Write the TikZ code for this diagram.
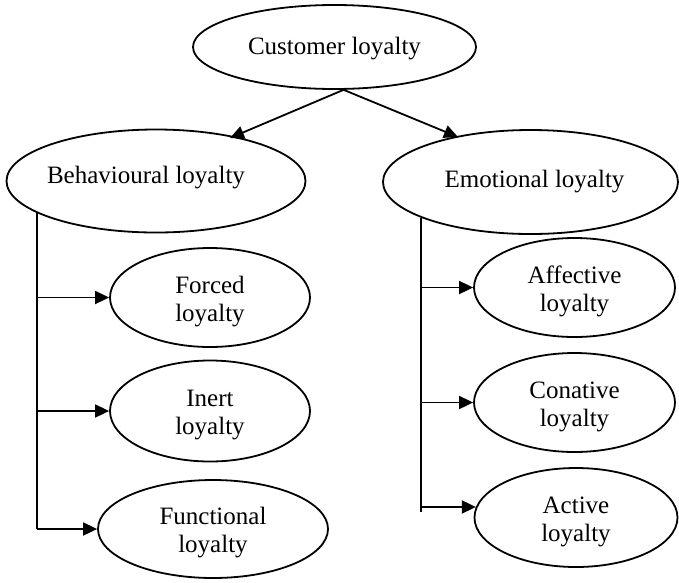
\documentclass[tikz,border=0pt]{standalone}
\usepackage{fontspec}
\setmainfont{Liberation Serif}
\usetikzlibrary{shapes.geometric,arrows.meta}
\begin{document}
\begin{tikzpicture}[x=1pt,y=-1pt,
  every node/.style={font=\fontsize{25}{28}\selectfont},
  every label/.style={align=center,inner sep=0pt},
  oval/.style={ellipse,draw,line width=1.8pt,inner sep=0pt,align=center},
  conn/.style={line width=1.8pt},
  arr/.style={line width=1.8pt,-{Triangle[length=14pt,width=13pt]}}]
\useasboundingbox (0,0) rectangle (679,582);
% nodes
\node[oval,minimum width=283pt,minimum height=84pt,
  label={[yshift=-2pt]center:Customer loyalty}] (cust) at (334.5,47) {};
\node[oval,minimum width=299pt,minimum height=103pt,
  label={[xshift=-10pt,yshift=3pt]center:Behavioural loyalty}] (beh) at (156,181) {};
\node[oval,minimum width=295pt,minimum height=104pt,
  label={[xshift=4pt,yshift=0pt]center:Emotional loyalty}] (emo) at (530.5,182) {};
\node[oval,minimum width=200pt,minimum height=99pt,
  label={[yshift=-4pt]center:Forced\\loyalty}] (forced) at (210,297.5) {};
\node[oval,minimum width=200pt,minimum height=101pt,
  label={[yshift=-4pt]center:Inert\\loyalty}] (inert) at (210,411) {};
\node[oval,minimum width=230pt,minimum height=98pt,
  label={[yshift=-4pt]center:Functional\\loyalty}] (func) at (213,529) {};
\node[oval,minimum width=201pt,minimum height=99pt,
  label={[yshift=-4pt]center:Affective\\loyalty}] (aff) at (574.5,287.5) {};
\node[oval,minimum width=201pt,minimum height=99pt,
  label={[yshift=-4pt]center:Conative\\loyalty}] (con) at (574.5,402.5) {};
\node[oval,minimum width=203pt,minimum height=99pt,
  label={[yshift=-4pt]center:Active\\loyalty}] (act) at (576,517.5) {};
% top arrows
\coordinate (tb) at (230,138);
\coordinate (te) at (458,137);
\draw[arr] (cust.-78.6) -- (tb);
\draw[arr] (cust.-78.6) -- (te);
% left tree
\path (beh.195.75) coordinate (bl);
\draw[conn] (bl) -- (bl |- func.west);
\draw[arr] (bl |- forced.west) -- (forced.west);
\draw[arr] (bl |- inert.west) -- (inert.west);
\draw[arr] (bl |- func.west) -- (func.west);
% right tree
\path (emo.198.4) coordinate (el);
\draw[conn] (el) -- ([yshift=-5pt]el |- act.174);
\draw[arr] (el |- aff.west) -- (aff.west);
\draw[arr] (el |- con.west) -- (con.west);
\draw[arr] (el |- act.174) -- (act.174);
\end{tikzpicture}
\end{document}
